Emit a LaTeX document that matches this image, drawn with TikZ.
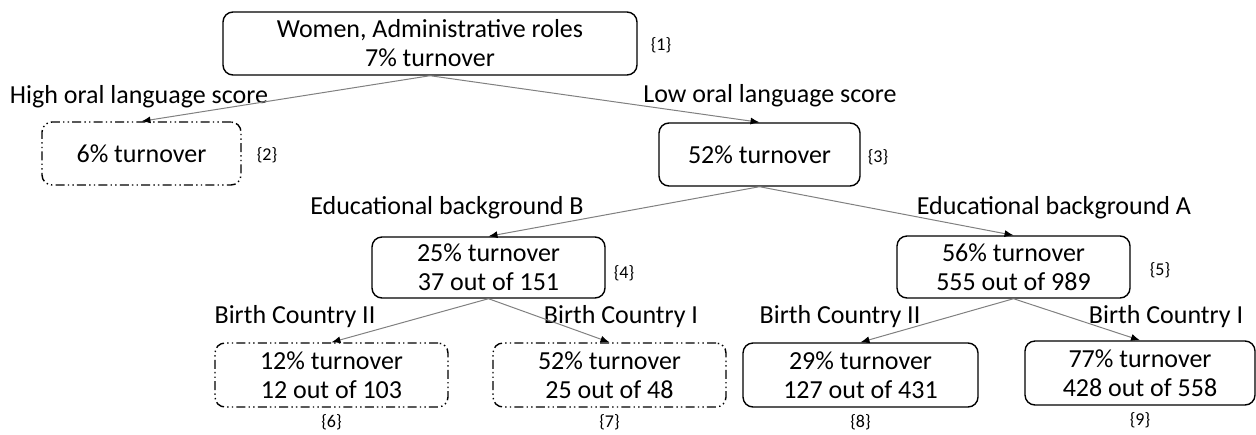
\documentclass[tikz,border=0pt]{standalone}
\usepackage{fontspec}
\setmainfont{Carlito}
\usetikzlibrary{positioning}
\usetikzlibrary{arrows.meta}
\tikzstyle{split}=[rectangle,draw,rounded corners=5pt,line width=0.7pt,align=center,font=\fontsize{13}{14.5}\selectfont]
\tikzstyle{leaf}=[split,dash pattern=on 4.5pt off 1.6pt on 0.7pt off 1.6pt on 0.7pt off 1.6pt]
\tikzstyle{branch}=[draw=gray,line width=0.5pt,-{Latex[black,length=4.5pt,width=3.5pt]}]
\tikzstyle{cond}=[inner sep=0pt,font=\fontsize{13}{14.5}\selectfont]
\tikzstyle{tag}=[inner sep=0pt,font=\fontsize{9}{10}\selectfont]

\begin{document}
\begin{tikzpicture}[x=0.5pt,y=-0.5pt]
    \useasboundingbox (0,0) rectangle (1256,434);

\node (b1) at (430,43.5) [split, minimum width=207pt, minimum height=31.5pt]{Women, Administrative roles\\7\% turnover};
\node (b2) at (141.5,153.5) [leaf, minimum width=99.5pt, minimum height=31.5pt]{6\% turnover};
\node (b3) at (759.5,154.5) [split, minimum width=100.5pt, minimum height=31.5pt]{52\% turnover};
\node (b4) at (488.5,267.5) [split, minimum width=116.5pt, minimum height=30.5pt]{25\% turnover\\37 out of 151};
\node (b5) at (1013.5,267) [split, minimum width=116.5pt, minimum height=31pt]{56\% turnover\\555 out of 989};
\node (b6) at (331.5,375) [leaf, minimum width=116.5pt, minimum height=32pt]{12\% turnover\\12 out of 103};
\node (b7) at (609.5,375) [leaf, minimum width=116.5pt, minimum height=32pt]{52\% turnover\\25 out of 48};
\node (b8) at (860.5,375) [split, minimum width=117.5pt, minimum height=32pt]{29\% turnover\\127 out of 431};
\node (b9) at (1140,373) [split, minimum width=115pt, minimum height=32pt]{77\% turnover\\428 out of 558};

\node (l1) at (661,45) [tag]{\{1\}};
\node (l2) at (267,155) [tag]{\{2\}};
\node (l3) at (878,157) [tag]{\{3\}};
\node (l4) at (624,273) [tag]{\{4\}};
\node (l5) at (1160,270) [tag]{\{5\}};
\node (l6) [below=3pt of b6, tag]{\{6\}};
\node (l7) [below=3pt of b7, tag]{\{7\}};
\node (l8) [below=3pt of b8, tag]{\{8\}};
\node (l9) [below=3pt of b9, tag]{\{9\}};

\node (c2) at (139,97) [cond]{High oral language score};
\node (c3) at (770,96) [cond]{Low oral language score};
\node (c4) at (447,208) [cond]{Educational background B};
\node (c5) at (1054,208) [cond]{Educational background A};
\node (c6) at (295,317) [cond]{Birth Country II};
\node (c7) at (621,317) [cond]{Birth Country I};
\node (c8) at (840,317) [cond]{Birth Country II};
\node (c9) at (1166,317) [cond]{Birth Country I};

\draw [branch] (b1.south) -- (b2.north);
\draw [branch] (b1.south) -- (b3.north);
\draw [branch] (b3.south) -- (b4.north);
\draw [branch] (b3.south) -- (b5.north);
\draw [branch] (b4.south) -- (b6.north);
\draw [branch] (b4.south) -- (b7.north);
\draw [branch] (b5.south) -- (b8.north);
\draw [branch] (b5.south) -- (b9.north);
\end{tikzpicture}
\end{document}
